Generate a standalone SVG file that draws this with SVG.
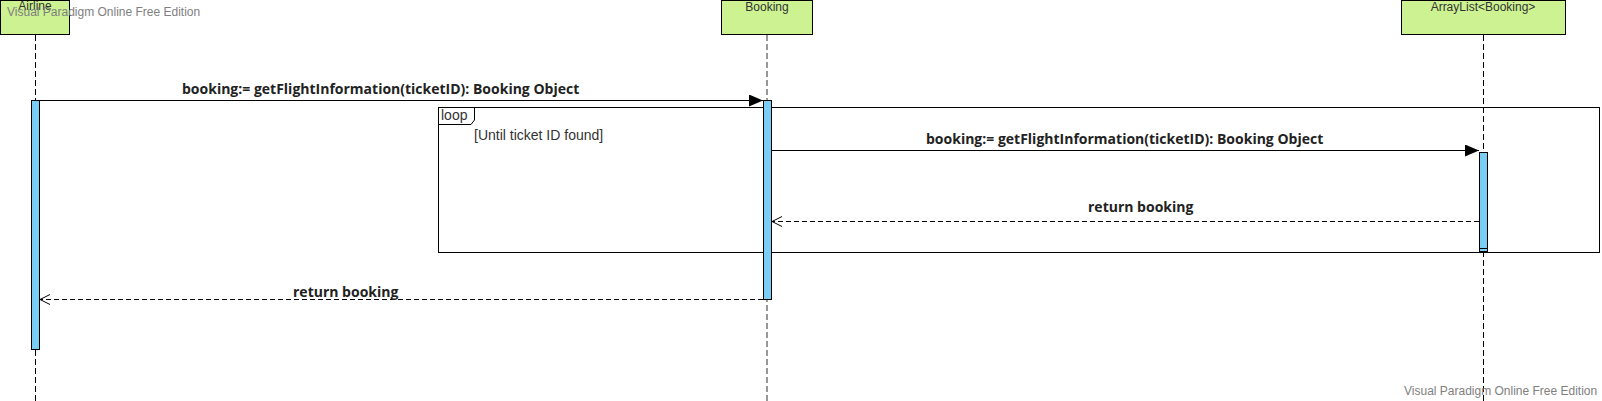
<svg xmlns="http://www.w3.org/2000/svg" width="1602" height="401" viewBox="0 0 1602 401">
<style>
.box{fill:#ccf291;stroke:#000;stroke-width:1}
.act{fill:#7acef4;stroke:#000;stroke-width:1}
.life{stroke:#000;stroke-width:1;stroke-dasharray:6,3;fill:none}
.lifeg{stroke:#777;stroke-width:1.5;stroke-dasharray:6,3;fill:none}
.name{font-family:"Liberation Sans",Arial,sans-serif;font-size:12px;fill:#333;text-anchor:middle}
.msg{stroke:#000;stroke-width:1;fill:none}
.ret{stroke:#000;stroke-width:1;stroke-dasharray:5,3;fill:none}
.lbl{font-family:"Open Sans","Noto Sans",sans-serif;font-weight:bold;font-size:14px;fill:#222}
.wm{font-family:"Liberation Sans",Arial,sans-serif;font-size:12px;fill:#808080}
.frame{fill:none;stroke:#000;stroke-width:1}
.small{font-family:"Liberation Sans",Arial,sans-serif;font-size:14px;fill:#333}
</style>
<defs>
<marker id="filled" markerWidth="14" markerHeight="12" refX="14" refY="6" orient="auto" markerUnits="userSpaceOnUse">
<path d="M0,0 L14,6 L0,12 Z" fill="#000"/>
</marker>
<marker id="open" markerWidth="12" markerHeight="12" refX="11" refY="6" orient="auto" markerUnits="userSpaceOnUse">
<path d="M1,1 L11,6 L1,11" fill="none" stroke="#000" stroke-width="1"/>
</marker>
</defs>
<rect width="1602" height="401" fill="#fff"/>

<g id="loop">
<rect class="frame" x="438.5" y="107.5" width="1161" height="145"/>
<path class="frame" d="M438.5,124.5 H471 L474.5,120 V107.5"/>
<text class="small" x="441" y="119.5" font-size="13">loop</text>
<text class="small" x="474" y="140">[Until ticket ID found]</text>
</g>

<g id="airline">
<line class="life" x1="35.5" y1="35" x2="35.5" y2="401"/>
<rect class="box" x="0.5" y="0.5" width="69" height="34"/>
<text class="name" x="35" y="10">Airline</text>
<rect class="act" x="31.5" y="100.5" width="8" height="249"/>
</g>

<g id="booking">
<line class="lifeg" x1="767" y1="35" x2="767" y2="401"/>
<rect class="box" x="721.5" y="0.5" width="91" height="34"/>
<text class="name" x="767" y="11">Booking</text>
<rect class="act" x="763.5" y="100.5" width="8" height="199"/>
</g>

<g id="arraylist">
<line class="life" x1="1483.5" y1="35" x2="1483.5" y2="401"/>
<rect class="box" x="1401.5" y="0.5" width="164" height="34"/>
<text class="name" x="1483" y="11" font-size="11">ArrayList&lt;Booking&gt;</text>
<rect class="act" x="1479.5" y="152.5" width="8" height="99"/>
<line x1="1479.5" y1="248.5" x2="1487.5" y2="248.5" stroke="#000"/>
</g>

<g id="connectors">
<line class="msg" x1="40" y1="100.5" x2="763" y2="100.5" marker-end="url(#filled)"/>
<text class="lbl" x="182" y="94">booking:= getFlightInformation(ticketID): Booking Object</text>
<line class="msg" x1="772" y1="150.5" x2="1479" y2="150.5" marker-end="url(#filled)"/>
<text class="lbl" x="926" y="144">booking:= getFlightInformation(ticketID): Booking Object</text>
<line class="ret" x1="1479" y1="221.5" x2="772" y2="221.5" marker-end="url(#open)"/>
<text class="lbl" x="1088" y="212">return booking</text>
<line class="ret" x1="763" y1="299.5" x2="40" y2="299.5" marker-end="url(#open)"/>
<text class="lbl" x="293" y="297">return booking</text>
</g>

<text class="wm" x="7" y="16">Visual Paradigm Online Free Edition</text>
<text class="wm" x="1404" y="395">Visual Paradigm Online Free Edition</text>
</svg>
